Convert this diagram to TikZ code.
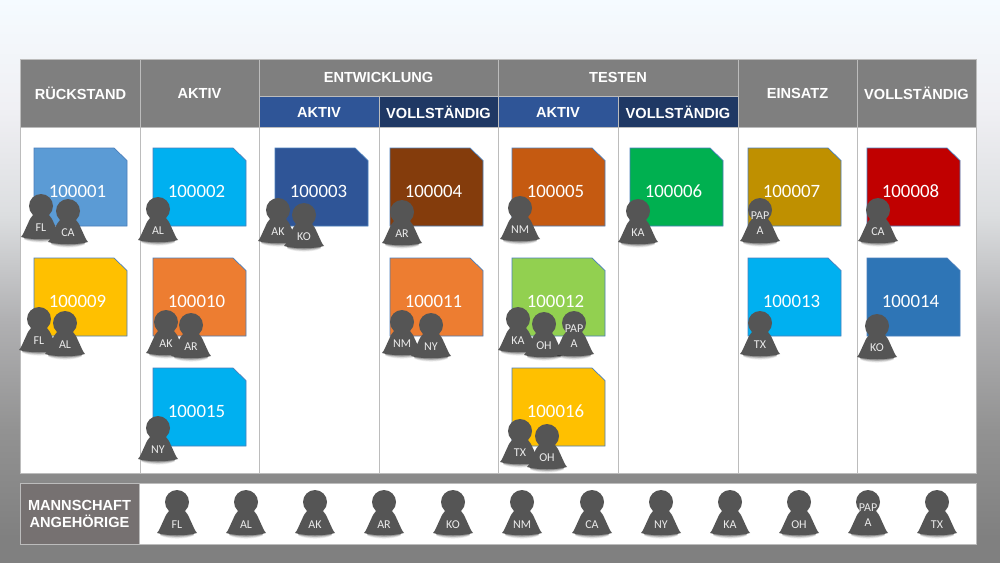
\documentclass[tikz,border=0pt]{standalone}
\usepackage{fontspec}
\setmainfont{Liberation Sans}
\newfontfamily\cardfont{Carlito}
\definecolor{hdr}{HTML}{7F7F7F}
\definecolor{rulec}{HTML}{BCBCBC}
\definecolor{subA}{HTML}{2F5597}
\definecolor{subV}{HTML}{1F3864}
\definecolor{pawn}{HTML}{555555}
\definecolor{mann}{HTML}{767171}
\definecolor{cardedge}{HTML}{4A7EBB}
\definecolor{bgA}{HTML}{808080}
\definecolor{bgB}{HTML}{929292}
\definecolor{bgC}{HTML}{B0B0B2}
\definecolor{bgD}{HTML}{DCDEE0}
\definecolor{bgF}{HTML}{F0F0F4}
\definecolor{bgE}{HTML}{F5FBFF}
\definecolor{cA}{HTML}{5B9BD5}
\definecolor{cB}{HTML}{00B0F0}
\definecolor{cC}{HTML}{2F5597}
\definecolor{cD}{HTML}{843C0C}
\definecolor{cE}{HTML}{C55A11}
\definecolor{cF}{HTML}{00B050}
\definecolor{cG}{HTML}{BF9000}
\definecolor{cH}{HTML}{C00000}
\definecolor{cI}{HTML}{FFC000}
\definecolor{cJ}{HTML}{ED7D31}
\definecolor{cK}{HTML}{92D050}
\definecolor{cL}{HTML}{2E75B6}
\pgfdeclareverticalshading{bgshade}{100bp}{
 color(0bp)=(bgA);
 color(27.2bp)=(bgA);
 color(36.7bp)=(bgB);
 color(46.4bp)=(bgC);
 color(55.9bp)=(bgD);
 color(65.5bp)=(bgF);
 color(75bp)=(bgE);
 color(100bp)=(bgE)}
\tikzset{
 x=1pt,y=-1pt,
 hdrcell/.style={draw=rulec,line width=1pt,fill=hdr},
 hdrtext/.style={text=white,font=\fontsize{14.6}{17}\selectfont\bfseries,inner sep=0pt},
 bodycell/.style={draw=rulec,line width=1pt,fill=white},
 cardtext/.style={text=white,font=\cardfont\fontsize{18.8}{20}\selectfont,inner sep=0pt},
 cardshape/.style={draw=cardedge,line width=.7pt},
 pawnfill/.style={fill=pawn,draw=none},
 pawntext/.style={text=white!92!black,font=\cardfont\fontsize{12}{15}\selectfont,inner sep=0pt,align=center},
}
% \card{name}{x}{y}{colour}{number}
\newcommand{\card}[5]{%
 \fill[#4] (#2,#3) -- ++(80,0) -- ++(13,12.5) -- ++(0,65.5) -- ++(-93,0) -- cycle;
 \draw[cardshape] (#2,#3) -- ++(80,0) -- ++(13,12.5) -- ++(0,65.5) -- ++(-93,0) -- cycle;
 \node[cardtext] (#1) at (#2+43.5,#3+43.5) {#5};
}
% \pawnfig{name}{x}{y}{label}{label offset}
\newcommand{\pawnfig}[5]{%
 \begin{scope}[shift={(#2,#3)}]
  \foreach \ds/\op in {3.5/.08,2.5/.1,1.5/.14,.7/.18}{
   \fill[black,opacity=\op] (-17,31) .. controls (-8,33) and (8,33) .. (17,31) -- (16.5,32+\ds/2) .. controls (8,34+\ds) and (-8,34+\ds) .. (-16.5,32+\ds/2) -- cycle;
  }
  \fill[pawnfill] (-7,8) .. controls (-8.5,10) and (-10,11) .. (-11,13) -- (-16.5,25) .. controls (-17.5,27.5) and (-18.5,29.5) .. (-20,31) .. controls (-10,34) and (10,34) .. (20,31) .. controls (18.5,29.5) and (17.5,27.5) .. (16.5,25) -- (11,13) .. controls (10,11) and (8.5,10) .. (7,8) -- cycle;
  \fill[pawnfill] (0,0) circle (12);
 \end{scope}
 \node[pawntext] (#1) at (#2,#3+#5) {#4};
}
\newcommand{\std}{22}
\newcommand{\tstd}{23}
\begin{document}
\begin{tikzpicture}
\useasboundingbox (0,0) rectangle (1000,562);
\shade[shading=bgshade] (0,0) rectangle (1000,562);
% body columns
\foreach \a/\b in {20/140,140/259,259/379,379/498,498/618,618/738,738/857,857/976}
  \draw[bodycell] (\a,127) rectangle (\b,473);
% header
\draw[hdrcell] (20,59) rectangle (140,127);
\draw[hdrcell] (140,59) rectangle (259,127);
\draw[hdrcell] (259,59) rectangle (498,96);
\draw[hdrcell] (498,59) rectangle (738,96);
\draw[hdrcell] (738,59) rectangle (857,127);
\draw[hdrcell] (857,59) rectangle (976,127);
\draw[hdrcell,fill=subA] (259,96) rectangle (379,127);
\draw[hdrcell,fill=subV] (379,96) rectangle (498,127);
\draw[hdrcell,fill=subA] (498,96) rectangle (618,127);
\draw[hdrcell,fill=subV] (618,96) rectangle (738,127);
\node[hdrtext] (h1) at (80.5,93.5) {RÜCKSTAND};
\node[hdrtext] (h2) at (199.5,93.5) {AKTIV};
\node[hdrtext] (h3) at (378.5,77.5) {ENTWICKLUNG};
\node[hdrtext] (h4) at (618,77.5) {TESTEN};
\node[hdrtext] (h5) at (797.5,93.5) {EINSATZ};
\node[hdrtext] (h6) at (916.5,93.5) {VOLLSTÄNDIG};
\node[hdrtext] (s1) at (319,112.5) {AKTIV};
\node[hdrtext] (s2) at (438.5,112.5) {VOLLSTÄNDIG};
\node[hdrtext] (s3) at (558,112.5) {AKTIV};
\node[hdrtext] (s4) at (678,112.5) {VOLLSTÄNDIG};
% cards
\card{c1}{34}{148}{cA}{100001}
\card{c2}{153}{148}{cB}{100002}
\card{c3}{275}{148}{cC}{100003}
\card{c4}{390}{148}{cD}{100004}
\card{c5}{512}{148}{cE}{100005}
\card{c6}{630}{148}{cF}{100006}
\card{c7}{748}{148}{cG}{100007}
\card{c8}{867}{148}{cH}{100008}
\card{c9}{34}{258}{cI}{100009}
\card{c10}{153}{258}{cJ}{100010}
\card{c11}{390}{258}{cJ}{100011}
\card{c12}{512}{258}{cK}{100012}
\card{c13}{748}{258}{cB}{100013}
\card{c14}{867}{258}{cL}{100014}
\card{c15}{153}{368}{cB}{100015}
\card{c16}{512}{368}{cI}{100016}
% pawns on cards
\pawnfig{pa}{41}{206}{FL}{\std}
\pawnfig{pb}{68}{211}{CA}{\std}
\pawnfig{pc}{158}{209}{AL}{\std}
\pawnfig{pd}{278}{210}{AK}{\std}
\pawnfig{pe}{304}{215}{KO}{\std}
\pawnfig{pf}{402}{212}{AR}{\std}
\pawnfig{pg}{520}{208}{NM}{\std}
\pawnfig{ph}{638}{211}{KA}{\std}
\pawnfig{pi}{760}{210}{PAP\\A}{13.5}
\pawnfig{pj}{878}{210}{CA}{\std}
\pawnfig{pk}{39}{319}{FL}{\std}
\pawnfig{pl}{65}{323}{AL}{\std}
\pawnfig{pm}{166}{322}{AK}{\std}
\pawnfig{pn}{191}{325}{AR}{\std}
\pawnfig{po}{402}{322}{NM}{\std}
\pawnfig{pp}{431}{325}{NY}{\std}
\pawnfig{pq}{518}{319}{KA}{\std}
\pawnfig{pr}{544}{324}{OH}{\std}
\pawnfig{ps}{574}{323}{PAP\\A}{13.5}
\pawnfig{pt}{760}{323}{TX}{\std}
\pawnfig{pu}{877}{326}{KO}{\std}
\pawnfig{pv}{158}{428}{NY}{\std}
\pawnfig{pw}{520}{431}{TX}{\std}
\pawnfig{px}{547}{436}{OH}{\std}
% team strip
\draw[bodycell] (20,483) rectangle (976,544);
\draw[hdrcell,fill=mann] (20,483) rectangle (139,544);
\node[hdrtext,align=center,font=\fontsize{14.6}{17}\selectfont\bfseries] (team) at (79.5,514) {MANNSCHAFT\\ANGEHÖRIGE};
\pawnfig{ta}{177}{502}{FL}{\tstd}
\pawnfig{tb}{246}{502}{AL}{\tstd}
\pawnfig{tc}{315}{502}{AK}{\tstd}
\pawnfig{td}{384}{502}{AR}{\tstd}
\pawnfig{te}{453}{502}{KO}{\tstd}
\pawnfig{tf}{522}{502}{NM}{\tstd}
\pawnfig{tg}{592}{502}{CA}{\tstd}
\pawnfig{th}{661}{502}{NY}{\tstd}
\pawnfig{ti}{730}{502}{KA}{\tstd}
\pawnfig{tj}{799}{502}{OH}{\tstd}
\pawnfig{tk}{868}{502}{PAP\\A}{13.5}
\pawnfig{tl}{937}{502}{TX}{\tstd}
\end{tikzpicture}
\end{document}
